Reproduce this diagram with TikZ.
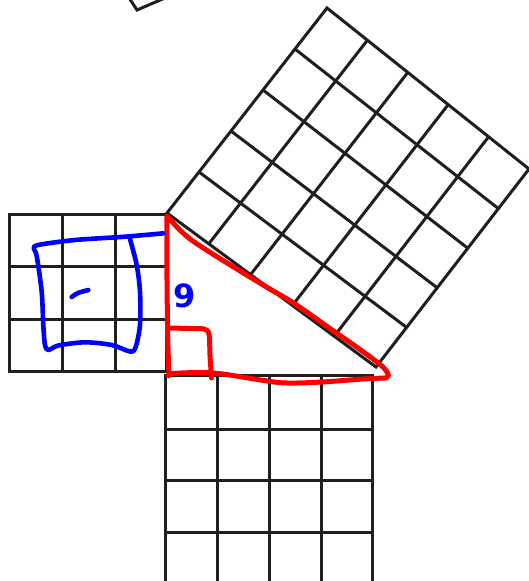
\documentclass[tikz,border=0pt]{standalone}
\usepackage{fontspec}
\newfontfamily\inkfont{DejaVu Sans}
\usetikzlibrary{calc}
\definecolor{inkred}{RGB}{255,0,0}
\definecolor{inkblue}{RGB}{0,0,255}
\begin{document}
\begin{tikzpicture}[x=1pt,y=-1pt,
  gridline/.style={line width=3pt, draw=black!88, line join=miter},
  redink/.style={line width=5pt, draw=inkred, line cap=round, line join=round},
  blueink/.style={line width=4.6pt, draw=inkblue, line cap=round, line join=round}]
\useasboundingbox[fill=white] (0,0) rectangle (528,581);

% fragment of a square at the top
\coordinate (F1) at (128.5,-3);
\coordinate (F2) at (137,10);
\coordinate (F3) at (166,-2.5);
\draw[gridline] (F1) -- (F2) -- (F3);

% tilted 5x5 grid on the hypotenuse
\coordinate (TA) at (167,213);
\coordinate (TB) at (327,8);
\coordinate (TC) at (529,169);
\coordinate (TD) at (376,367);
\draw[gridline] (TA) -- (TB) -- (TC) -- (TD) -- cycle;
\foreach \k [evaluate=\k as \f using \k/5] in {1,...,4} {
  \draw[gridline] ($(TA)!\f!(TB)$) -- ($(TD)!\f!(TC)$);
  \draw[gridline] ($(TA)!\f!(TD)$) -- ($(TB)!\f!(TC)$);
}

% left 3x3 grid
\coordinate (LA) at (9.5,214);
\coordinate (LC) at (166.7,371.3);
\draw[gridline] (LA) rectangle (LC);
\foreach \x in {62.7,115.3} \draw[gridline] (\x,214) -- (\x,371.3);
\foreach \y in {266.7,319.3} \draw[gridline] (9.5,\y) -- (166.7,\y);

% bottom 4x4 grid
\coordinate (BA) at (165,375);
\coordinate (BC) at (372.7,585);
\draw[gridline] (BA) rectangle (BC);
\foreach \x in {217.7,269.3,321.3} \draw[gridline] (\x,375) -- (\x,585);
\foreach \y in {429.3,480,532.7} \draw[gridline] (165,\y) -- (372.7,\y);

% red triangle
\draw[redink]
  plot[smooth,tension=0.6] coordinates {(167,216) (187,236.5) (216.7,256.5) (264,285.5) (294,303.3) (330.7,329) (360.7,350) (383,367) (388.5,375.5)}
  -- plot[smooth,tension=0.6] coordinates {(386,378) (363,379) (322,382) (287,383) (264,380.5) (213,373) (173,373.5) (169,376)}
  -- plot[smooth,tension=0.6] coordinates {(169,376) (167.8,340) (167.2,300) (166.8,250) (167,216)} -- cycle;
% right-angle mark
\draw[redink] plot[smooth,tension=0.5] coordinates {(170,328) (190,328.5) (204,329) (209,334) (210,355) (211.5,378)};

% blue square
\draw[blueink] plot[smooth,tension=0.5] coordinates {(163.3,233.3) (125,236.7) (75,240) (38,245) (34,249) (36.7,256) (41.7,291.7) (43.3,325) (45,345) (48.5,350) (58.3,345.5) (85,342.3) (111.7,345) (130,351.5) (135.5,347.5) (140,325) (140,291.7) (136.7,265) (130,239)};
\draw[blueink] plot[smooth] coordinates {(71.7,297) (78,293) (88.3,290)};

% blue label
\node[text=inkblue, font=\inkfont\bfseries\fontsize{32}{32}\selectfont, inner sep=0pt] (nine) at (184.5,296) {9};
\end{tikzpicture}
\end{document}
